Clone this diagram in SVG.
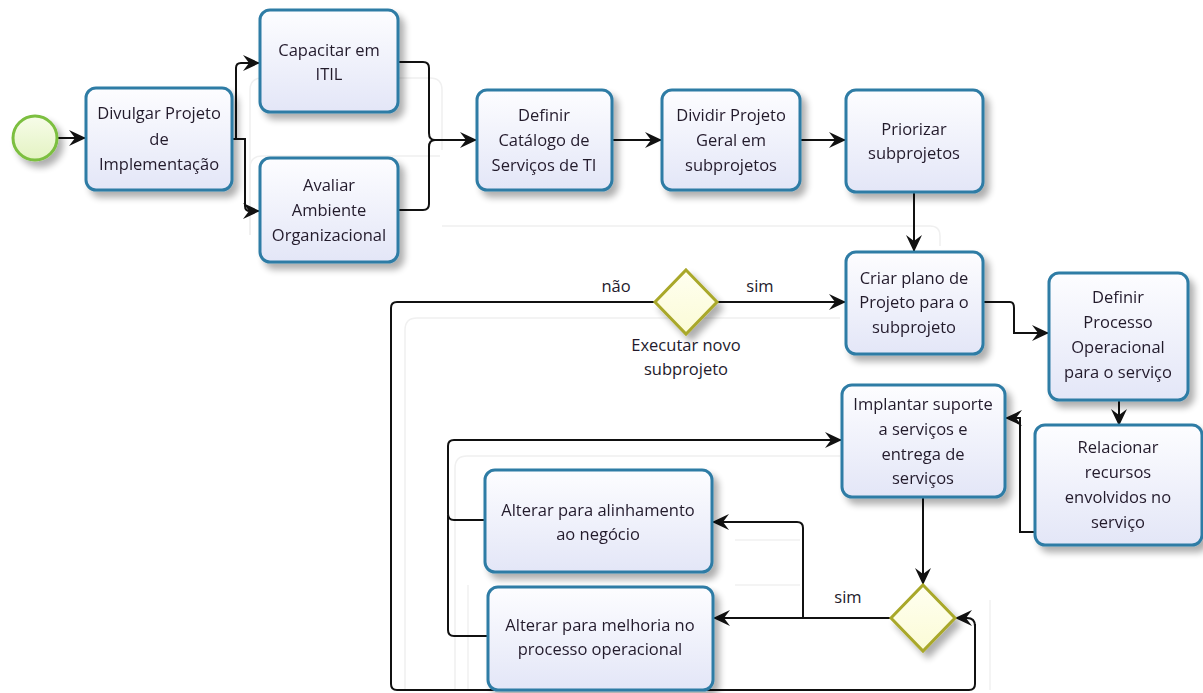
<svg xmlns="http://www.w3.org/2000/svg" width="1203" height="693" viewBox="0 0 1203 693">
  <defs>
    <linearGradient id="taskFill" x1="0" y1="0" x2="0" y2="1">
      <stop offset="0" stop-color="#fdfdff"/>
      <stop offset="1" stop-color="#e3e6f7"/>
    </linearGradient>
    <linearGradient id="startFill" x1="0" y1="0" x2="0" y2="1">
      <stop offset="0" stop-color="#f7fce9"/>
      <stop offset="1" stop-color="#e3f3c2"/>
    </linearGradient>
    <linearGradient id="gwFill" x1="0" y1="0" x2="0" y2="1">
      <stop offset="0" stop-color="#fffff0"/>
      <stop offset="1" stop-color="#fbfbd6"/>
    </linearGradient>
    <filter id="shadow" x="-20%" y="-20%" width="150%" height="150%">
      <feGaussianBlur in="SourceAlpha" stdDeviation="3.5"/>
      <feOffset dx="5" dy="6" result="b"/>
      <feComponentTransfer><feFuncA type="linear" slope="0.32"/></feComponentTransfer>
      <feMerge><feMergeNode/><feMergeNode in="SourceGraphic"/></feMerge>
    </filter>
    <marker id="arrow" markerUnits="userSpaceOnUse" markerWidth="20" markerHeight="20" refX="17" refY="10" orient="auto">
      <path d="M0,2 L17,10 L0,18 L6,10 z" fill="#111"/>
    </marker>
  </defs>
  <style>
    .task rect { fill: url(#taskFill); stroke: #2f7ca5; stroke-width: 3; }
    .task text, .lbl { font-family: "Open Sans", "Noto Sans", sans-serif; font-size: 16.5px; fill: #231a2c; text-anchor: middle; }
    .gw polygon { fill: url(#gwFill); stroke: #a9a82a; stroke-width: 3; }
    .conn path { fill: none; stroke: #111; stroke-width: 2; }
    .conn .arr { marker-end: url(#arrow); }
    .ghost { fill: none; stroke: #f0f0f0; stroke-width: 1.5; }
  </style>

  <rect width="1203" height="693" fill="#ffffff"/>

  <!-- faint guide outlines of the layout lanes -->
  <g class="ghost">
    <path d="M250,235 V90 Q250,78 262,78 H430 Q442,78 442,90 V150"/>
    <path d="M250,235 V168 Q250,156 262,156 H440"/>
    <path d="M442,226 H930 Q940,226 940,236 V246"/>
    <path d="M405,690 V330 Q405,318 417,318 H840"/>
    <path d="M455,690 V468 Q455,456 467,456 H840"/>
    <path d="M468,690 V585"/>
    <path d="M735,540 H800"/>
    <path d="M735,585 H800"/>
    <path d="M990,600 V690"/>
  </g>

  <!-- connectors -->
  <g class="conn">
    <path class="arr" d="M57,138 H86"/>
    <path class="arr" d="M232,139 H236 V68 Q236,63 241,63 H260"/>
    <path class="arr" d="M232,139 H245 V206 Q245,211 250,211 H260"/>
    <path d="M398,62 H423 Q429,62 429,68 V133 Q429,140 435,140"/>
    <path d="M398,210 H423 Q429,210 429,204 V147 Q429,140 435,140"/>
    <path class="arr" d="M433,140 H477"/>
    <path class="arr" d="M612,140 H662"/>
    <path class="arr" d="M800,140 H846"/>
    <path class="arr" d="M914,192 V252"/>
    <path class="arr" d="M717,302 H846"/>
    <path d="M655,302 H397 Q391,302 391,308 V684 Q391,690 397,690 H969 Q975,690 975,684 V624"/>
    <path class="arr" d="M975,626 Q975,618 967,618 H955"/>
    <path class="arr" d="M983,302 H1010 Q1014,302 1014,308 V333 H1049"/>
    <path class="arr" d="M1119,400 V426"/>
    <path class="arr" d="M1035,532 H1020 V418 H1005"/>
    <path class="arr" d="M923,497 V585"/>
    <path class="arr" d="M892,618 H713"/>
    <path class="arr" d="M803,618 V528 Q803,522 797,522 H712"/>
    <path class="arr" d="M485,520 H454 Q448,520 448,514 V446 Q448,440 454,440 H842"/>
    <path d="M488,636 H454 Q448,636 448,630 V515"/>
  </g>

  <!-- labels on flows -->
  <g id="flow-labels">
    <text class="lbl" x="616" y="292">não</text>
    <text class="lbl" x="760" y="292">sim</text>
    <text class="lbl" x="848" y="603">sim</text>
  </g>

  <!-- start event -->
  <g id="start" filter="url(#shadow)">
    <circle cx="35" cy="138" r="22" fill="url(#startFill)" stroke="#7cbf3f" stroke-width="3"/>
  </g>

  <!-- tasks -->
  <g id="divulgar" class="task" filter="url(#shadow)">
    <rect x="86" y="88" width="146" height="102" rx="10"/>
    <text x="159" y="119">Divulgar Projeto</text>
    <text x="159" y="145">de</text>
    <text x="159" y="170">Implementação</text>
  </g>
  <g id="capacitar" class="task" filter="url(#shadow)">
    <rect x="260" y="10" width="138" height="102" rx="10"/>
    <text x="329" y="56">Capacitar em</text>
    <text x="329" y="80">ITIL</text>
  </g>
  <g id="avaliar" class="task" filter="url(#shadow)">
    <rect x="260" y="158" width="138" height="104" rx="10"/>
    <text x="329" y="191">Avaliar</text>
    <text x="329" y="216">Ambiente</text>
    <text x="329" y="241">Organizacional</text>
  </g>
  <g id="definir-catalogo" class="task" filter="url(#shadow)">
    <rect x="477" y="90" width="135" height="100" rx="10"/>
    <text x="544" y="121">Definir</text>
    <text x="544" y="146">Catálogo de</text>
    <text x="544" y="171">Serviços de TI</text>
  </g>
  <g id="dividir" class="task" filter="url(#shadow)">
    <rect x="662" y="90" width="138" height="100" rx="10"/>
    <text x="731" y="121">Dividir Projeto</text>
    <text x="731" y="146">Geral em</text>
    <text x="731" y="171">subprojetos</text>
  </g>
  <g id="priorizar" class="task" filter="url(#shadow)">
    <rect x="846" y="90" width="137" height="102" rx="10"/>
    <text x="914" y="135">Priorizar</text>
    <text x="914" y="159">subprojetos</text>
  </g>
  <g id="criar-plano" class="task" filter="url(#shadow)">
    <rect x="846" y="252" width="137" height="102" rx="10"/>
    <text x="914" y="284">Criar plano de</text>
    <text x="914" y="308">Projeto para o</text>
    <text x="914" y="333">subprojeto</text>
  </g>
  <g id="definir-processo" class="task" filter="url(#shadow)">
    <rect x="1049" y="273" width="139" height="127" rx="10"/>
    <text x="1118" y="303">Definir</text>
    <text x="1118" y="328">Processo</text>
    <text x="1118" y="353">Operacional</text>
    <text x="1118" y="378">para o serviço</text>
  </g>
  <g id="relacionar" class="task" filter="url(#shadow)">
    <rect x="1035" y="425" width="167" height="120" rx="10"/>
    <text x="1118" y="453">Relacionar</text>
    <text x="1118" y="478">recursos</text>
    <text x="1118" y="503">envolvidos no</text>
    <text x="1118" y="528">serviço</text>
  </g>
  <g id="implantar" class="task" filter="url(#shadow)">
    <rect x="842" y="385" width="163" height="112" rx="10"/>
    <text x="923" y="410">Implantar suporte</text>
    <text x="923" y="435">a serviços e</text>
    <text x="923" y="460">entrega de</text>
    <text x="923" y="484">serviços</text>
  </g>
  <g id="alterar-alinhamento" class="task" filter="url(#shadow)">
    <rect x="485" y="470" width="227" height="102" rx="10"/>
    <text x="598" y="516">Alterar para alinhamento</text>
    <text x="598" y="540">ao negócio</text>
  </g>
  <g id="alterar-melhoria" class="task" filter="url(#shadow)">
    <rect x="488" y="587" width="225" height="103" rx="10"/>
    <text x="600" y="631">Alterar para melhoria no</text>
    <text x="600" y="655">processo operacional</text>
  </g>

  <!-- gateways -->
  <g id="gw-executar" class="gw" filter="url(#shadow)">
    <polygon points="686,270 717,302 686,334 655,302"/>
  </g>
  <g id="gw-executar-label">
    <text class="lbl" x="686" y="351">Executar novo</text>
    <text class="lbl" x="686" y="375">subprojeto</text>
  </g>
  <g id="gw-ajuste" class="gw" filter="url(#shadow)">
    <polygon points="923,585 955,618 923,651 891,618"/>
  </g>
</svg>
